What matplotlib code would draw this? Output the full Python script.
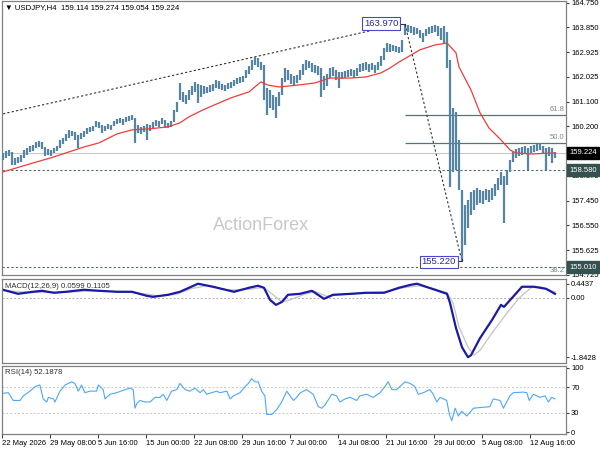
import numpy as np
import matplotlib
matplotlib.use('Agg')
import matplotlib.pyplot as plt

plt.rcParams['font.family'] = ['Liberation Sans', 'DejaVu Sans']

# ---- 价格数据（每根柱 = 8 小时，读自图像）----
highs = [
    159.22, 159.29, 159.33, 159.26, 159.04, 159.07, 159.15, 159.33, 159.40, 159.48,
    159.52, 159.63, 159.66, 159.63, 159.44, 159.37, 159.33, 159.40, 159.48, 159.70,
    159.77, 159.92, 160.07, 160.03, 159.99, 159.88, 159.96, 160.03, 160.14, 160.18,
    160.22, 160.40, 160.36, 160.25, 160.22, 160.29, 160.25, 160.40, 160.47, 160.51,
    160.47, 160.55, 160.58, 160.62, 160.51, 160.25, 160.18, 160.22, 160.29, 160.25,
    160.36, 160.44, 160.40, 160.51, 160.44, 160.33, 160.40, 160.81, 161.10, 161.80,
    161.47, 161.36, 161.54, 161.69, 161.84, 161.76, 161.73, 161.69, 161.65, 161.73,
    161.76, 161.91, 161.87, 161.76, 161.73, 161.80, 161.84, 161.91, 161.98, 162.02,
    162.06, 162.28, 162.43, 162.65, 162.76, 162.72, 162.57, 162.46, 161.62, 161.54,
    161.36, 161.28, 161.47, 161.98, 162.35, 162.28, 162.13, 162.06, 162.10, 162.28,
    162.50, 162.65, 162.61, 162.54, 162.46, 162.43, 162.35, 162.06, 162.13, 162.35,
    162.39, 162.28, 162.21, 162.21, 162.24, 162.28, 162.32, 162.28, 162.35, 162.50,
    162.54, 162.57, 162.50, 162.54, 162.46, 162.57, 162.80, 163.09, 163.27, 163.24,
    163.20, 163.16, 163.13, 163.39, 163.97, 163.94, 163.90, 163.86, 163.83, 163.75,
    163.64, 163.79, 163.86, 163.90, 163.94, 163.90, 163.83, 163.90, 163.68, 162.65,
    160.88, 160.73, 159.70, 157.86, 157.30, 157.49, 157.78, 157.86, 157.93, 157.86,
    157.82, 157.89, 157.86, 157.93, 158.08, 158.30, 158.52, 158.37, 158.59, 158.96,
    159.26, 159.37, 159.40, 159.44, 159.48, 159.40, 159.48, 159.52, 159.55, 159.59,
    159.48, 159.40, 159.44, 159.40, 159.27,
]
lows = [
    158.96, 159.04, 159.11, 158.78, 158.78, 158.85, 158.89, 159.04, 159.15, 159.26,
    159.29, 159.40, 159.44, 159.37, 159.11, 159.15, 159.11, 159.22, 159.29, 159.40,
    159.55, 159.66, 159.77, 159.85, 159.70, 159.40, 159.74, 159.81, 159.92, 159.99,
    160.03, 160.18, 160.14, 159.96, 160.03, 160.11, 160.07, 160.22, 160.29, 160.33,
    160.25, 160.36, 160.40, 160.44, 159.59, 159.96, 159.92, 159.99, 159.70, 160.03,
    160.14, 160.22, 160.18, 160.29, 160.14, 160.14, 160.18, 160.36, 160.73, 161.17,
    161.10, 161.03, 161.17, 161.36, 161.47, 161.06, 161.28, 161.40, 161.43, 161.47,
    161.51, 161.62, 161.58, 161.54, 161.51, 161.58, 161.62, 161.69, 161.76, 161.80,
    161.84, 161.98, 162.13, 162.28, 162.46, 162.39, 162.28, 161.17, 160.62, 160.88,
    160.81, 160.51, 160.95, 161.36, 161.84, 161.91, 161.76, 161.69, 161.80, 161.91,
    162.10, 162.28, 162.35, 162.21, 162.17, 162.10, 161.28, 161.54, 161.69, 161.98,
    162.06, 161.91, 161.62, 161.95, 161.98, 162.02, 162.06, 161.98, 162.06, 162.21,
    162.24, 162.28, 162.21, 162.28, 162.17, 162.28, 162.43, 162.65, 162.94, 162.94,
    162.98, 162.94, 162.91, 162.94, 163.57, 163.68, 163.64, 163.57, 163.61, 163.46,
    163.31, 163.53, 163.61, 163.64, 163.68, 163.53, 163.39, 163.27, 162.35, 157.97,
    158.52, 158.59, 157.86, 155.22, 155.83, 156.46, 156.94, 157.12, 157.30, 157.38,
    157.34, 157.49, 157.42, 157.49, 157.64, 157.86, 158.04, 156.64, 158.04, 158.52,
    158.89, 159.04, 159.11, 159.15, 159.18, 158.59, 159.22, 159.26, 159.29, 159.33,
    159.18, 158.59, 159.11, 158.85, 159.05,
]

# 均线（红）
ma_x = [0, 10, 16, 21, 27, 32, 38, 43, 49, 55, 59, 62, 66, 69, 76, 82, 86, 88, 92, 99,
        104, 109, 116, 121, 126, 129, 132, 139, 144, 148, 151, 152, 156, 159, 162, 166,
        169, 171, 176, 184]
ma_y = [158.52, 158.85, 159.04, 159.22, 159.44, 159.59, 159.92, 160.07, 160.11, 160.18,
        160.33, 160.55, 160.77, 160.92, 161.25, 161.47, 161.84, 161.73, 161.65, 161.73,
        161.80, 161.98, 161.98, 162.02, 162.17, 162.35, 162.57, 163.02, 163.20, 163.27,
        162.91, 162.39, 161.54, 160.70, 160.14, 159.70, 159.33, 159.22, 159.18, 159.22]

# 关键价位
last_price = 159.224
support = 158.580
lower_level = 155.010
fib_levels = [160.628, 159.595]
fib_names = ['61.8', '50.0']
fib_start = 134
peak_bar, peak_price = 134, 163.970
low_bar, low_price = 153, 155.220
trend_up_x, trend_up_y = [0, 127.5], [160.66, 163.85]
trend_dn_x, trend_dn_y = [134, 152.7], [163.97, 155.35]

price_ticks = [164.750, 163.850, 162.925, 162.025, 161.100, 160.200,
               158.375, 157.450, 156.550, 155.625, 154.725]

# MACD
macd_x = [0, 5, 10, 13, 17, 21, 27, 32, 38, 43, 48, 50, 55, 59, 65, 70, 77, 82, 85, 87,
          89, 91, 93, 95, 99, 103, 107, 110, 116, 121, 127, 132, 136, 138, 141, 146, 148,
          149, 151, 153, 155, 156, 159, 163, 166, 167, 170, 173, 177, 181, 184]
macd_v = [0.256, 0.130, 0.193, 0.224, 0.162, 0.193, 0.256, 0.224, 0.193, 0.193,
          0.067, 0.036, 0.099, 0.193, 0.444, 0.350, 0.193, 0.318, 0.381, 0.318,
          -0.058, -0.215, -0.121, 0.099, 0.130, 0.224, -0.026, 0.099, 0.130, 0.162,
          0.162, 0.318, 0.412, 0.444, 0.350, 0.193, 0.130, -0.152, -0.935, -1.531,
          -1.843, -1.782, -1.249, -0.685, -0.215, -0.277, 0.036, 0.350, 0.350, 0.287,
          0.130]
sig_x = [0, 10, 20, 30, 40, 48, 52, 58, 63, 68, 75, 82, 87, 90, 93, 96, 100, 104, 108,
         112, 120, 128, 134, 139, 144, 148, 150, 152, 155, 157, 159, 163, 168, 172, 176,
         179, 184]
sig_v = [0.23, 0.17, 0.18, 0.22, 0.20, 0.12, 0.06, 0.12, 0.30, 0.38,
         0.25, 0.27, 0.33, 0.10, -0.12, -0.05, 0.10, 0.20, 0.05, 0.10,
         0.15, 0.20, 0.33, 0.38, 0.28, 0.17, -0.15, -0.90, -1.53, -1.78,
         -1.63, -1.09, -0.47, 0.00, 0.318, 0.35, 0.19]

# RSI(14)
rsi_x = [
    0.0, 1.8, 3.4, 5.7, 6.8, 9.0, 10.7, 12.3, 13.4, 14.6,
    15.1, 16.8, 17.3, 19.0, 20.7, 22.9, 24.0, 25.1, 26.2, 27.3,
    29.0, 31.2, 31.8, 33.4, 34.0, 35.7, 37.9, 40.7, 42.3, 43.4,
    44.0, 44.6, 45.7, 47.3, 49.0, 50.7, 52.3, 53.4, 54.6, 56.2,
    57.9, 59.0, 60.7, 62.3, 64.0, 65.7, 66.8, 67.9, 71.2, 72.3,
    74.6, 75.7, 76.8, 79.0, 80.7, 81.8, 82.9, 84.0, 85.1, 86.2,
    87.3, 87.9, 89.6, 91.2, 92.9, 94.6, 95.7, 96.8, 97.9, 99.0,
    101.2, 103.4, 105.1, 106.2, 107.3, 109.6, 111.2, 112.3, 114.0, 115.7,
    117.9, 119.0, 121.2, 123.4, 125.7, 127.3, 128.4, 129.6, 131.2, 132.3,
    134.0, 135.7, 137.3, 138.4, 140.1, 142.3, 143.4, 144.6, 145.7, 146.8,
    147.9, 148.8, 149.6, 150.7, 151.8, 152.9, 154.6, 156.8, 159.0, 162.3,
    163.4, 165.7, 166.8, 169.0, 170.1, 173.4, 174.6, 175.4, 176.8, 179.0,
    180.7, 181.8, 182.9, 184.0]
rsi_v = [
    60.4, 61.4, 49.3, 49.3, 56.5, 63.8, 71.0, 73.4, 51.7, 46.9,
    54.1, 51.7, 46.9, 63.8, 73.4, 78.3, 75.8, 63.8, 73.4, 61.4,
    63.8, 63.8, 73.4, 66.2, 51.7, 58.9, 61.4, 66.2, 68.6, 66.2,
    37.2, 44.4, 49.3, 46.9, 46.9, 54.1, 54.1, 58.9, 49.3, 63.8,
    66.2, 75.8, 66.2, 63.8, 68.6, 61.4, 66.2, 58.9, 63.8, 61.4,
    63.8, 51.7, 56.5, 61.4, 71.0, 75.8, 83.1, 78.3, 78.3, 63.8,
    56.5, 27.5, 27.5, 34.8, 46.9, 63.8, 56.5, 49.3, 54.1, 61.0,
    66.2, 58.9, 39.6, 37.2, 42.0, 58.9, 56.5, 46.9, 51.7, 54.1,
    49.3, 56.5, 58.9, 54.1, 61.4, 71.0, 78.3, 66.2, 66.2, 71.0,
    78.3, 75.8, 71.0, 58.9, 61.4, 66.2, 58.9, 46.9, 54.1, 51.7,
    49.3, 27.5, 17.8, 37.2, 25.1, 32.4, 25.1, 37.2, 38.2, 39.6,
    51.7, 49.3, 37.2, 56.5, 61.4, 62.3, 61.4, 49.3, 58.9, 54.1,
    56.5, 46.9, 54.1, 51.7]

date_labels = ['22 May 2026', '29 May 08:00', '5 Jun 16:00', '15 Jun 00:00',
               '22 Jun 08:00', '29 Jun 16:00', '7 Jul 00:00', '14 Jul 08:00',
               '21 Jul 16:00', '29 Jul 00:00', '5 Aug 08:00', '12 Aug 16:00']

# ---- 布局 ----
W, H = 600, 450
FS = 5.5
fig = plt.figure(figsize=(6, 4.5), dpi=100)


def px_axes(x0, y0, x1, y1):
    return fig.add_axes([x0 / W, 1 - y1 / H, (x1 - x0) / W, (y1 - y0) / H])


ax = px_axes(2, 1, 566, 275)
ax_macd = px_axes(2, 279, 566, 363)
ax_rsi = px_axes(2, 366, 566, 434)

x_lo, x_hi = -0.33, 187.67
for a in (ax, ax_macd, ax_rsi):
    a.set_xlim(x_lo, x_hi)
    for s in a.spines.values():
        s.set_color('#808080')
        s.set_linewidth(0.9)
    a.yaxis.tick_right()
    a.tick_params(axis='y', labelsize=FS, length=2.5, pad=1.2, color='#404040')
    a.tick_params(axis='x', length=0)
    a.set_xticks([])

# ---- 主图 ----
ax.set_ylim(154.72, 164.82)
ax.axhline(last_price, color='#c8c8c8', lw=0.8, zorder=1)
ax.axhline(support, color='#4f6767', lw=0.8, ls=(0, (2, 2)), zorder=1)
ax.axhline(lower_level, color='#4f6767', lw=0.8, ls=(0, (2, 2)), zorder=1)
ax.hlines(fib_levels, fib_start, x_hi, color='#5a7272', lw=0.9, zorder=1)
for lv, nm in zip(fib_levels, fib_names):
    ax.text(x_hi - 0.5, lv + 0.06, nm, ha='right', va='bottom', fontsize=FS,
            color='#7a8c8c')
ax.text(x_hi - 0.5, 154.76, '38.2', ha='right', va='bottom', fontsize=FS, color='#7a8c8c')

ax.plot(trend_up_x, trend_up_y, color='#303030', lw=0.8, ls=(0, (2, 2)), zorder=2)
ax.plot(trend_dn_x, trend_dn_y, color='#303030', lw=0.8, ls=(0, (2, 2)), zorder=2)

ax.vlines(np.arange(len(highs)), lows, highs, color='#5585a2', lw=1.6, zorder=3)
ax.plot(ma_x, ma_y, color='#f03c3c', lw=0.9, zorder=4)

box_kw = dict(boxstyle='square,pad=0.2', fc='white', ec='#4848c8', lw=0.8)
ax.text(peak_bar - 8, peak_price + 0.01, f'{peak_price:.3f}', ha='center', va='center',
        fontsize=6.8, color='#2a2aa0', bbox=box_kw, zorder=6)
ax.plot([peak_bar - 2.6, peak_bar, peak_bar], [peak_price, peak_price, peak_price - 0.08],
        color='#303060', lw=0.8, zorder=5)
ax.text(low_bar - 7.7, low_price - 0.02, f'{low_price:.3f}', ha='center', va='center',
        fontsize=6.8, color='#2a2aa0', bbox=box_kw, zorder=6)
ax.plot([low_bar - 2.4, low_bar, low_bar], [low_price, low_price, low_price + 0.08],
        color='#303060', lw=0.8, zorder=5)

ax.set_yticks(price_ticks)
ax.set_yticklabels([f'{t:.3f}' for t in price_ticks])

ytr = ax.get_yaxis_transform()
ax.text(1.006, last_price, f'{last_price:.3f}', transform=ytr, ha='left', va='center',
        fontsize=FS, color='white', clip_on=False, zorder=7,
        bbox=dict(boxstyle='square,pad=0.3', fc='black', ec='black'))
for lv in (support, lower_level):
    ax.text(1.006, lv, f'{lv:.3f}', transform=ytr, ha='left', va='center',
            fontsize=FS, color='white', clip_on=False, zorder=7,
            bbox=dict(boxstyle='square,pad=0.3', fc='#34504f', ec='#34504f'))

ax.text(0.005, 0.988, '▼ USDJPY,H4  159.114 159.274 159.054 159.224',
        transform=ax.transAxes, ha='left', va='top', fontsize=5.6)
ax.text(0.459, 0.182, 'ActionForex', transform=ax.transAxes, ha='center', va='center',
        fontsize=13, color='#c8c8c8', zorder=0)

# ---- MACD ----
ax_macd.set_ylim(-2.023, 0.591)
ax_macd.axhline(0, color='#b0b0b0', lw=0.7, ls=(0, (2, 2)))
ax_macd.plot(sig_x, sig_v, color='#c8c8c8', lw=1.0)
ax_macd.plot(macd_x, macd_v, color='#1a1aa6', lw=1.6)
ax_macd.set_yticks([0.4437, 0.0, -1.8428])
ax_macd.set_yticklabels(['0.4437', '0.00', '-1.8428'])
ax_macd.text(0.005, 0.95, 'MACD(12,26,9) 0.0599 0.1105', transform=ax_macd.transAxes,
             ha='left', va='top', fontsize=5.6, color='#303030')

# ---- RSI ----
ax_rsi.set_ylim(-3, 103)
for lv in (70, 30):
    ax_rsi.axhline(lv, color='#c8c8c8', lw=0.7, ls=(0, (2, 2)))
ax_rsi.plot(rsi_x, rsi_v, color='#4da6ff', lw=0.8)
ax_rsi.set_yticks([100, 70, 30, 0])
ax_rsi.set_yticklabels(['100', '70', '30', '0'])
ax_rsi.text(0.005, 0.95, 'RSI(14) 52.1878', transform=ax_rsi.transAxes,
            ha='left', va='top', fontsize=5.6, color='#303030')

ax_rsi.set_xticks(x_lo + 16 * np.arange(len(date_labels)))
ax_rsi.set_xticklabels(date_labels)
ax_rsi.tick_params(axis='x', labelsize=FS, length=3, pad=1.5, color='#404040')
for lbl in ax_rsi.get_xticklabels():
    lbl.set_ha('left')

fig.savefig('out.png', dpi=100, facecolor='white')
